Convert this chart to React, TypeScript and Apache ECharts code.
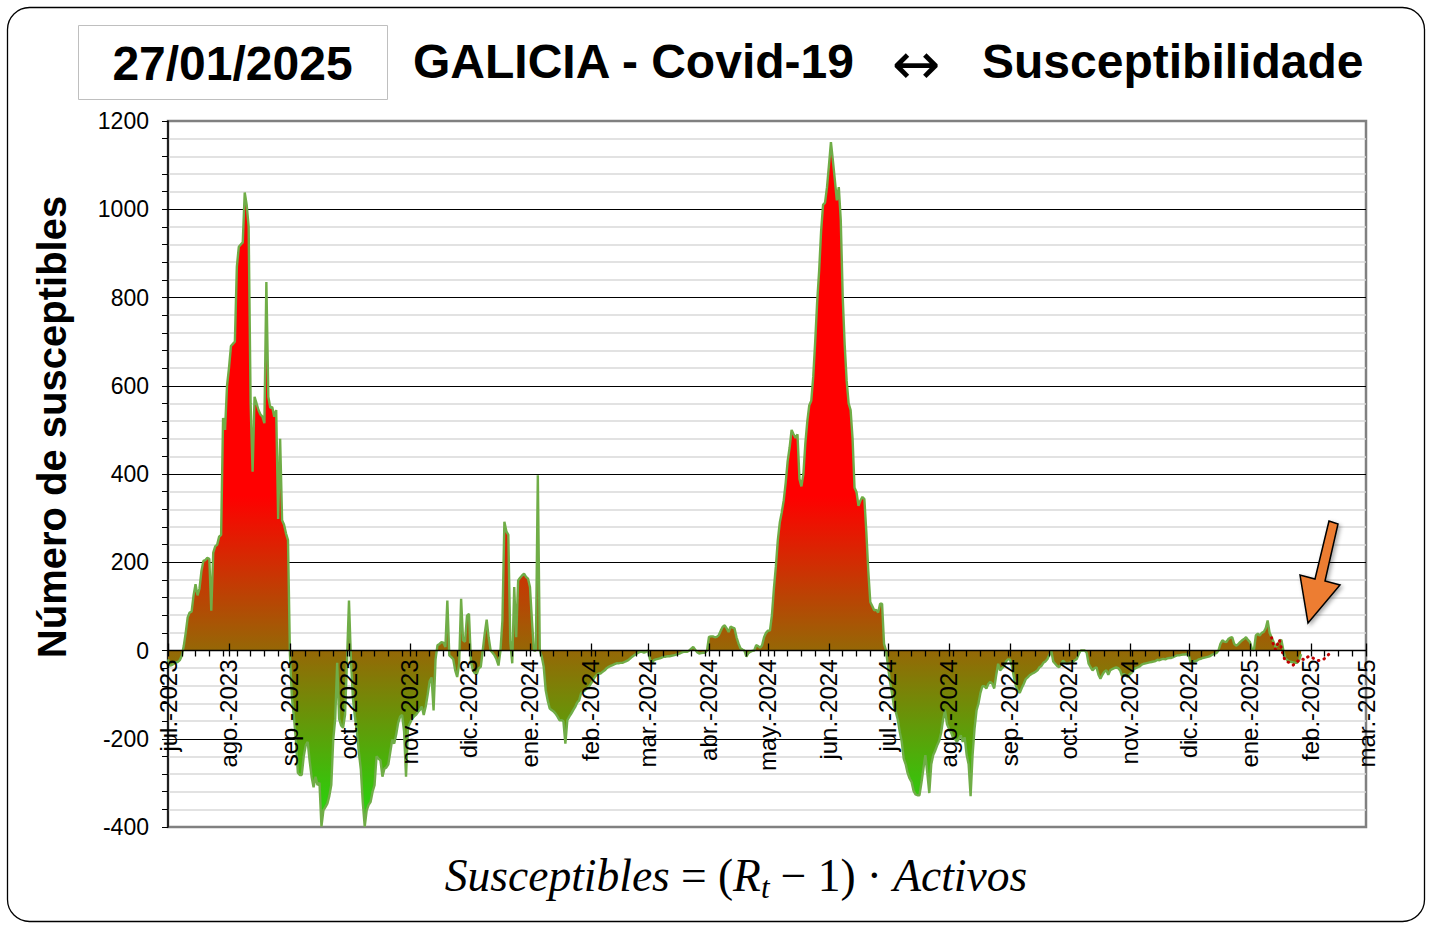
import React, { useEffect, useRef } from 'react';
import * as echarts from 'echarts';

// ---------- DATA ----------
const START_DATE = '2023-07-01';
const END_DATE = '2025-03-01';
const MONTH_ABBR = ['ene.', 'feb.', 'mar.', 'abr.', 'may.', 'jun.', 'jul.', 'ago.', 'sep.', 'oct.', 'nov.', 'dic.'];

// Daily "susceptibles" values, from 2023-07-01 to 2025-01-27
const SUSCEPTIBLES = [
  -20, -34, -33, -30, -27, -26, -22, -12, 10, 40,
  75, 86, 88, 125, 150, 125, 140, 180, 203, 205,
  210, 208, 90, 222, 236, 240, 258, 262, 527, 500,
  600, 640, 690, 695, 700, 870, 915, 920, 925, 1038,
  1010, 960, 560, 405, 575, 560, 545, 535, 530, 515,
  835, 575, 550, 552, 530, 545, 298, 480, 295, 285,
  265, 250, -10, -108, -150, -202, -277, -282, -282, -240,
  -215, -207, -250, -286, -310, -286, -305, -300, -399, -362,
  -355, -347, -330, -305, -202, -155, -28, -155, -170, -175,
  -146, -23, 113, -23, -108, -150, -183, -230, -268, -343,
  -399, -362, -350, -343, -320, -305, -240, -245, -249, -286,
  -268, -265, -258, -230, -202, -211, -190, -164, -150, -146,
  -183, -286, -174, -165, -155, -150, -146, -140, -135, -127,
  -146, -127, -100, -70, -61, -136, -20, 12, 15, 19,
  18, 8, 113, -11, -15, -20, -45, -60, -30, 117,
  23, 20, 79, 83, -26, -45, -52, -53, -40, -37,
  0, 38, 70, 30, 0, -5, -11, -20, -34, 0,
  68, 292, 270, 262, 20, -29, 144, 30, 159, 165,
  170, 174, 167, 163, 144, 69, 0, 0, 397, 0,
  -14, -37, -90, -113, -131, -135, -138, -143, -150, -158,
  -158, -160, -211, -158, -150, -143, -135, -128, -118, -113,
  -97, -93, -90, -85, -82, -75, -68, -60, -55, -52,
  -52, -48, -45, -40, -37, -35, -33, -31, -29, -29,
  -28, -28, -26, -24, -22, -18, -14, -11, -8, -5,
  -3, -3, -5, -3, 0, -20, -29, -22, -20, -19,
  -18, -16, -14, -14, -13, -13, -12, -11, -10, -8,
  -7, -5, -3, -3, -3, 0, 4, 8, 2, -4,
  -7, -6, -5, -5, 0, 31, 32, 32, 30, 31,
  35, 45, 54, 57, 50, 42, 54, 52, 50, 30,
  16, 5, 2, 0, -14, -6, -3, -1, 0, 12,
  10, 6, 12, 30, 40, 45, 45, 80, 140, 190,
  250, 290, 313, 340, 380, 429, 460, 500, 490, 482,
  490, 389, 372, 400, 470, 520, 556, 566, 620, 700,
  790, 860, 950, 1010, 1015, 1050, 1100, 1152, 1110, 1066,
  1020, 1050, 975, 800, 692, 611, 560, 545, 480, 369,
  359, 328, 340, 348, 343, 268, 180, 110, 101, 91,
  92, 86, 106, 106, 15, 0, -35, -70, -96, -126,
  -140, -157, -185, -207, -245, -258, -278, -290, -298, -318,
  -326, -328, -328, -300, -268, -237, -278, -323, -258, -237,
  -227, -215, -205, -187, -157, -136, -167, -177, -185, -197,
  -200, -207, -200, -192, -207, -197, -237, -258, -330, -237,
  -177, -136, -120, -96, -81, -81, -86, -76, -71, -75,
  -86, -56, -30, -45, -40, -35, -25, -20, -20, -35,
  -60, -80, -91, -96, -85, -76, -65, -61, -56, -53,
  -51, -48, -45, -38, -35, -28, -25, -20, -10, 0,
  -25, -30, -35, -38, -30, -23, -28, -30, -28, -27,
  -26, -22, -19, -8, 0, 0, 0, -5, -30, -38,
  -45, -40, -38, -55, -64, -55, -48, -45, -55, -45,
  -42, -40, -38, -40, -45, -58, -53, -57, -60, -53,
  -50, -42, -40, -38, -36, -32, -30, -29, -28, -27,
  -26, -25, -24, -21, -22, -20, -19, -20, -18, -17,
  -17, -15, -13, -11, -11, -10, -9, -9, -8, -12,
  -30, -26, -24, -23, -20, -19, -17, -16, -15, -14,
  -12, -9, -7, -6, 0, 15, 23, 20, 19, 26,
  29, 30, 15, 11, 14, 19, 23, 26, 30, 24,
  19, 4, 0, 34, 38, 34, 40, 42, 50, 68,
  40, 30, 20, 8, 12, 22, 24, 0, -18, -22,
  -25, -26, -27, -28, -28, -22, -8,
];

// Dotted projection series
const PROJECTION_START = '2025-01-12';
const PROJECTION = [
  29, 12, 2, 14, 24, 5, -12, -24, -26, -27,
  -30, -33, -28, -26, -21, -19, -20, -21, -16, -13,
  -15, -17, -20, -22, -23, -22, -21, -18, -14, -9,
  -5, -2,
];

const Y_MIN = -400;
const Y_MAX = 1200;
const Y_STEP = 200;

const REPORT_DATE = '27/01/2025';
const TITLE_LEFT = 'GALICIA - Covid-19';
const TITLE_RIGHT = 'Susceptibilidade';
const Y_TITLE = 'Número de susceptibles';

// ---------- helpers ----------
const DAY = 86400000;
const toUTC = (s: string) => {
  const [y, m, d] = s.split('-').map(Number);
  return Date.UTC(y, m - 1, d);
};
const dates: Date[] = [];
for (let t = toUTC(START_DATE); t <= toUTC(END_DATE); t += DAY) dates.push(new Date(t));
const categories = dates.map((d) => d.toISOString().slice(0, 10));
const isMonthStart = (i: number) => !!dates[i] && dates[i].getUTCDate() === 1;
const isWeekTick = (i: number) => !!dates[i] && dates[i].getUTCDay() === 6;
const monthLabel = (v: string) => {
  const d = new Date(v + 'T00:00:00Z');
  return `${MONTH_ABBR[d.getUTCMonth()]}-${d.getUTCFullYear()}`;
};
const projOffset = Math.round((toUTC(PROJECTION_START) - toUTC(START_DATE)) / DAY);
const projData = categories.map((_, i) =>
  i >= projOffset && i < projOffset + PROJECTION.length ? PROJECTION[i - projOffset] : null
);

const GRID = { left: 168, top: 121, width: 1198, height: 706 };
const yPix = (v: number) => GRID.top + ((Y_MAX - v) / (Y_MAX - Y_MIN)) * GRID.height;
// move the x axes from the grid bottom up to the zero line
const ZERO_OFFSET = -((0 - Y_MIN) / (Y_MAX - Y_MIN)) * GRID.height;
const FONT = '"Liberation Sans", Arial, sans-serif';
const SERIF = '"Liberation Serif", "DejaVu Serif", serif';

export default function App() {
  const ref = useRef<HTMLDivElement>(null);
  useEffect(() => {
    if (!ref.current) return;
    const chart = echarts.init(ref.current, undefined, { renderer: 'svg' });
    const areaGradient = new echarts.graphic.LinearGradient(
      0, yPix(350), 0, yPix(-350),
      [
        { offset: 0, color: '#FF0000' },
        { offset: 1, color: '#2CCF0C' },
      ],
      true
    );
    const option: any = {
      animation: false,
      backgroundColor: '#ffffff',
      grid: { ...GRID, show: true, borderColor: '#808080', borderWidth: 2.5, backgroundColor: 'transparent' },
      xAxis: [
        {
          type: 'category',
          data: categories,
          boundaryGap: false,
          position: 'bottom',
          offset: ZERO_OFFSET,
          z: 10,
          axisLine: { show: true, onZero: false, lineStyle: { color: '#000', width: 1.3 } },
          axisTick: {
            show: true,
            inside: false,
            length: 6,
            interval: (i: number) => isMonthStart(i) || isWeekTick(i),
            lineStyle: { color: '#000', width: 1.3 },
          },
          axisLabel: {
            interval: (i: number) => isMonthStart(i),
            rotate: 90,
            margin: 9,
            fontSize: 24,
            fontFamily: FONT,
            color: '#000',
            formatter: (v: string) => monthLabel(v),
          },
          splitLine: { show: false },
        },
        {
          type: 'category',
          data: categories,
          boundaryGap: false,
          position: 'bottom',
          offset: ZERO_OFFSET,
          z: 10,
          axisLine: { show: false, onZero: false },
          axisTick: {
            show: true,
            inside: true,
            length: 7,
            interval: (i: number) => isMonthStart(i),
            lineStyle: { color: '#000', width: 1.3 },
          },
          axisLabel: { show: false },
          splitLine: { show: false },
        },
      ],
      yAxis: {
        type: 'value',
        min: Y_MIN,
        max: Y_MAX,
        interval: Y_STEP,
        axisLine: { show: true, lineStyle: { color: '#000', width: 1.5 } },
        axisTick: { show: true, length: 6, lineStyle: { color: '#000' } },
        minorTick: { show: true, splitNumber: 5, length: 6, lineStyle: { color: '#000' } },
        axisLabel: { fontSize: 23, fontFamily: FONT, color: '#000', margin: 19, formatter: (v: number) => String(v) },
        splitLine: { show: true, showMinLine: false, showMaxLine: false, lineStyle: { color: '#000', width: 1 } },
        minorSplitLine: { show: true, lineStyle: { color: '#D9D9D9', width: 1.5 } },
      },
      series: [
        {
          type: 'line',
          name: 'Susceptibles',
          data: SUSCEPTIBLES,
          xAxisIndex: 0,
          showSymbol: false,
          symbol: 'none',
          lineStyle: { color: '#70AD47', width: 2.4 },
          areaStyle: { color: areaGradient, opacity: 1 },
          z: 2,
        },
        {
          type: 'line',
          name: 'Proyección',
          data: projData,
          xAxisIndex: 0,
          showSymbol: false,
          symbol: 'none',
          connectNulls: false,
          lineStyle: { color: '#C00000', width: 3, type: [0.5, 5.5], cap: 'round' },
          z: 3,
        },
      ],
      graphic: [
        {
          type: 'rect',
          silent: true,
          shape: { x: 7.5, y: 7.5, width: 1417, height: 914, r: 22 },
          style: { fill: 'none', stroke: '#000', lineWidth: 1.3 },
          z: 0,
        },
        {
          type: 'rect',
          silent: true,
          shape: { x: 78.5, y: 25.5, width: 309, height: 74 },
          style: { fill: '#fff', stroke: '#BFBFBF', lineWidth: 1 },
        },
        {
          type: 'text',
          x: 232.5,
          y: 63,
          style: { text: REPORT_DATE, font: `bold 48px ${FONT}`, fill: '#000', align: 'center', verticalAlign: 'middle' },
        },
        {
          type: 'text',
          x: 413,
          y: 61,
          style: { text: TITLE_LEFT, font: `bold 48px ${FONT}`, fill: '#000', align: 'left', verticalAlign: 'middle' },
        },
        {
          type: 'text',
          x: 916,
          y: 64,
          style: { text: '↔', font: `58px "DejaVu Sans", ${FONT}`, fill: '#000', align: 'center', verticalAlign: 'middle' },
        },
        {
          type: 'text',
          x: 982,
          y: 61,
          style: { text: TITLE_RIGHT, font: `bold 48px ${FONT}`, fill: '#000', align: 'left', verticalAlign: 'middle' },
        },
        {
          type: 'text',
          x: 52,
          y: 427,
          rotation: Math.PI / 2,
          style: { text: Y_TITLE, font: `bold 40px ${FONT}`, fill: '#000', align: 'center', verticalAlign: 'middle' },
        },
        {
          type: 'text',
          x: 736,
          y: 875,
          style: {
            text: '{i|Susceptibles} {u|=} {u|(}{i|R}{s|t} {u|−} {u|1}{u|)} {u|·} {i|Activos}',
            font: `45px ${SERIF}`,
            fill: '#000',
            align: 'center',
            verticalAlign: 'middle',
            rich: {
              i: { fontStyle: 'italic', fontSize: 45.5, fontFamily: SERIF, lineHeight: 56, verticalAlign: 'middle' },
              u: { fontStyle: 'normal', fontSize: 45.5, fontFamily: SERIF, lineHeight: 56, verticalAlign: 'middle' },
              s: { fontStyle: 'italic', fontSize: 31, fontFamily: SERIF, lineHeight: 30, verticalAlign: 'bottom' },
            },
          },
        },
        {
          type: 'polygon',
          silent: true,
          shape: {
            points: [
              [1329, 521],
              [1338, 524],
              [1325, 581],
              [1340, 585],
              [1308, 623],
              [1300, 575],
              [1315, 579],
            ],
          },
          style: {
            fill: '#ED7D31',
            stroke: '#000',
            lineWidth: 1.5,
            shadowBlur: 4,
            shadowColor: 'rgba(0,0,0,0.35)',
            shadowOffsetX: 2,
            shadowOffsetY: 2,
          },
          z: 20,
        },
      ],
    };
    chart.setOption(option);
    return () => chart.dispose();
  }, []);
  return (
    <div
      ref={ref}
      style={{ position: 'fixed', left: 0, top: 0, width: 1433, height: 934, background: '#fff' }}
    />
  );
}
